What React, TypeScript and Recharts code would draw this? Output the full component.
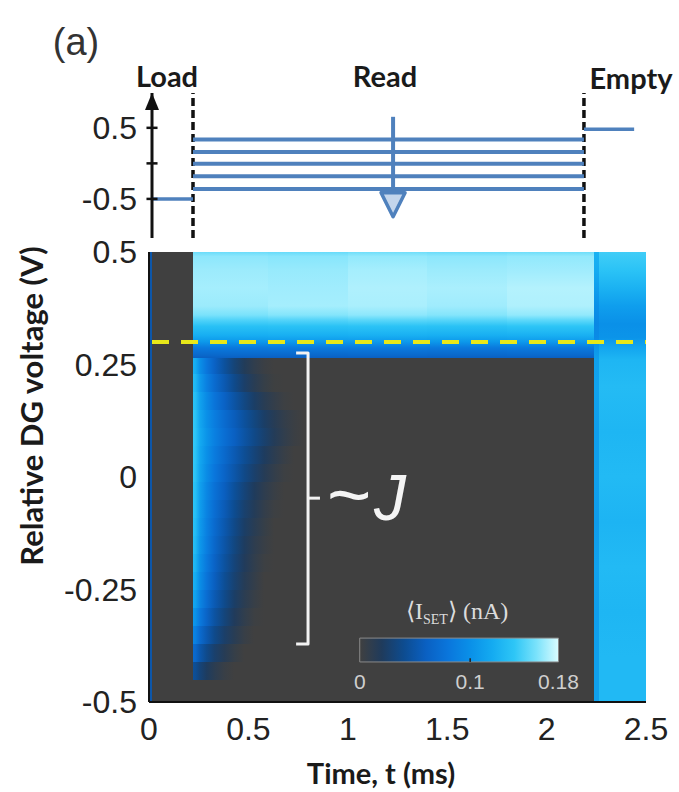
import React from "react";
import {
  ComposedChart,
  Line,
  XAxis,
  YAxis,
  ReferenceArea,
  ReferenceLine,
  ReferenceDot,
} from "recharts";

// ---------- top panel: gate pulse scheme (schematic, ms) ----------
const phaseEdges = [0.2075, 2.186]; // Load | Read | Empty
const loadLevel = -0.5;
const readLevels = [0.335, 0.16, -0.005, -0.18, -0.36];
const emptyLevel = 0.48;
const emptyEnd = 2.44;
const readArrow = { t: 1.22, top: 0.655, tip: -0.75 };
const pulseTicks = [-0.5, 0, 0.5];

// ---------- main panel ----------
const timeTicks = [0, 0.5, 1, 1.5, 2, 2.5];
const voltTicks = [-0.5, -0.25, 0, 0.25, 0.5];
const thresholdV = 0.3; // yellow dashed line

// thin strip at t=0
const loadStrip = { t0: 0, t1: 0.014, value: 0.05 };

// read phase, above threshold: vertical profiles (nA) per time column
const readTopCols = [0.22, 0.6, 1.0, 1.4, 1.8, 2.24];
const readTopV = [0.5, 0.49, 0.46, 0.42, 0.38, 0.36, 0.35, 0.335, 0.315, 0.3, 0.287, 0.27, 0.265];
const readTopValues = [
  [0.156, 0.164, 0.167, 0.169, 0.167, 0.16, 0.15, 0.136, 0.122, 0.105, 0.082, 0.066, 0.06],
  [0.155, 0.163, 0.166, 0.168, 0.169, 0.162, 0.151, 0.137, 0.123, 0.106, 0.083, 0.066, 0.06],
  [0.157, 0.165, 0.169, 0.171, 0.17, 0.164, 0.153, 0.138, 0.124, 0.106, 0.083, 0.067, 0.06],
  [0.156, 0.164, 0.167, 0.17, 0.168, 0.162, 0.152, 0.137, 0.123, 0.105, 0.082, 0.066, 0.06],
  [0.157, 0.165, 0.168, 0.172, 0.171, 0.165, 0.154, 0.139, 0.124, 0.106, 0.083, 0.067, 0.06],
];

// read phase, below threshold: decay profiles along time, one per voltage row
const decayT = [0.22, 0.235, 0.255, 0.29, 0.33, 0.38, 0.43, 0.48, 0.53, 0.58, 0.63, 0.68, 0.73, 0.78];
const decayEdges = [
  0.265, 0.23, 0.19, 0.15, 0.11, 0.07, 0.03, -0.01, -0.05, -0.09, -0.13, -0.17, -0.21, -0.25,
  -0.29, -0.33, -0.37, -0.41, -0.45,
];
const decayValues = [
  [0.125, 0.12, 0.1, 0.08, 0.062, 0.045, 0.03, 0.018, 0.009, 0.003, 0],
  [0.133, 0.128, 0.108, 0.088, 0.07, 0.053, 0.038, 0.025, 0.014, 0.006, 0.001, 0],
  [0.138, 0.133, 0.114, 0.095, 0.078, 0.062, 0.048, 0.035, 0.024, 0.014, 0.007, 0.002, 0],
  [0.142, 0.137, 0.118, 0.1, 0.085, 0.07, 0.057, 0.045, 0.034, 0.024, 0.015, 0.008, 0.003, 0],
  [0.142, 0.138, 0.12, 0.103, 0.088, 0.073, 0.06, 0.048, 0.037, 0.027, 0.017, 0.009, 0.003, 0],
  [0.142, 0.137, 0.118, 0.1, 0.084, 0.068, 0.054, 0.042, 0.031, 0.021, 0.012, 0.005, 0],
  [0.142, 0.136, 0.116, 0.097, 0.08, 0.064, 0.05, 0.037, 0.026, 0.016, 0.008, 0.002, 0],
  [0.14, 0.134, 0.113, 0.093, 0.075, 0.059, 0.044, 0.031, 0.02, 0.011, 0.004, 0],
  [0.139, 0.133, 0.111, 0.09, 0.072, 0.055, 0.04, 0.027, 0.017, 0.008, 0.002, 0],
  [0.138, 0.131, 0.109, 0.088, 0.069, 0.052, 0.037, 0.024, 0.014, 0.006, 0],
  [0.136, 0.129, 0.107, 0.086, 0.066, 0.049, 0.034, 0.021, 0.011, 0.004, 0],
  [0.132, 0.125, 0.103, 0.082, 0.063, 0.046, 0.031, 0.019, 0.009, 0.002, 0],
  [0.126, 0.12, 0.099, 0.078, 0.059, 0.042, 0.028, 0.016, 0.007, 0],
  [0.118, 0.112, 0.092, 0.072, 0.054, 0.038, 0.024, 0.013, 0.005, 0],
  [0.107, 0.101, 0.083, 0.064, 0.047, 0.032, 0.019, 0.009, 0.002, 0],
  [0.092, 0.087, 0.07, 0.053, 0.038, 0.025, 0.014, 0.005, 0],
  [0.07, 0.066, 0.052, 0.038, 0.026, 0.015, 0.006, 0],
  [0.044, 0.041, 0.031, 0.021, 0.012, 0.004, 0],
];

// empty phase: vertical profiles for the edge column and the main column
const emptyCols = [2.24, 2.262, 2.5];
const emptyV = [0.5, 0.46, 0.42, 0.38, 0.34, 0.31, 0.29, 0.26, 0.2, 0.1, 0, -0.1, -0.2, -0.3, -0.4, -0.5];
const emptyValues = [
  [0.125, 0.12, 0.11, 0.1, 0.094, 0.096, 0.104, 0.112, 0.114, 0.11, 0.112, 0.109, 0.113, 0.11, 0.112, 0.112],
  [0.145, 0.138, 0.125, 0.11, 0.1, 0.103, 0.115, 0.128, 0.132, 0.128, 0.131, 0.127, 0.131, 0.128, 0.13, 0.13],
];

// ~J bracket
const bracket = { tIn: 0.74, tOut: 0.8, tTick: 0.86, vTop: 0.2756, vBot: -0.371, vMid: -0.047 };

// colour bar placement (data units) and labels
const cbar = { t0: 1.06, t1: 2.06, v0: -0.411, v1: -0.358, max: 0.18 };
const cbarTicks = [0, 0.1, 0.18];

// colormap
const cmapStops = [0, 0.02, 0.04, 0.06, 0.08, 0.1, 0.12, 0.14, 0.16, 0.18];
const cmapColors = ["#404040", "#1f3b5c", "#0d4c90", "#0a60c2", "#0a76dc", "#0a90e8", "#14abf1", "#2ec6f6", "#7ae2fb", "#dafcff"];

function hex(c: string) {
  return [1, 3, 5].map((i) => parseInt(c.slice(i, i + 2), 16));
}
function cmap(v: number) {
  if (v <= cmapStops[0]) return cmapColors[0];
  for (let i = 1; i < cmapStops.length; i++) {
    if (v <= cmapStops[i]) {
      const f = (v - cmapStops[i - 1]) / (cmapStops[i] - cmapStops[i - 1]);
      const a = hex(cmapColors[i - 1]);
      const b = hex(cmapColors[i]);
      const m = a.map((x, k) => Math.round(x + (b[k] - x) * f));
      return `rgb(${m[0]},${m[1]},${m[2]})`;
    }
  }
  return cmapColors[cmapColors.length - 1];
}

// heat-map bands: rectangles filled with a gradient sampled from the values
type Band = {
  id: string;
  t0: number;
  t1: number;
  v0: number;
  v1: number;
  dir: "h" | "v";
  stops: { o: number; c: string }[];
};
const bands: Band[] = [];
bands.push({
  id: "ls",
  t0: loadStrip.t0,
  t1: loadStrip.t1,
  v0: -0.5,
  v1: 0.5,
  dir: "v",
  stops: [{ o: 0, c: cmap(loadStrip.value) }, { o: 1, c: cmap(loadStrip.value) }],
});
readTopValues.forEach((col, j) => {
  const top = readTopV[0];
  const bot = readTopV[readTopV.length - 1];
  bands.push({
    id: `rt${j}`,
    t0: readTopCols[j],
    t1: readTopCols[j + 1],
    v0: bot,
    v1: top,
    dir: "v",
    stops: col.map((val, k) => ({ o: (top - readTopV[k]) / (top - bot), c: cmap(val) })),
  });
});
decayValues.forEach((row, i) => {
  const t0 = decayT[0];
  const t1 = decayT[row.length - 1];
  bands.push({
    id: `dc${i}`,
    t0,
    t1,
    v0: decayEdges[i + 1],
    v1: decayEdges[i],
    dir: "h",
    stops: row.map((val, k) => ({ o: (decayT[k] - t0) / (t1 - t0), c: cmap(val) })),
  });
});
emptyValues.forEach((col, j) => {
  const top = emptyV[0];
  const bot = emptyV[emptyV.length - 1];
  bands.push({
    id: `em${j}`,
    t0: emptyCols[j],
    t1: emptyCols[j + 1],
    v0: bot,
    v1: top,
    dir: "v",
    stops: col.map((val, k) => ({ o: (top - emptyV[k]) / (top - bot), c: cmap(val) })),
  });
});

const BLUE = "#4f81bd";
const tickFont = { fontSize: 32, fill: "#222", fontFamily: "Liberation Sans, Arial, sans-serif" };
const titleFont: React.CSSProperties = { fontFamily: "Lato, sans-serif", fontWeight: 700, color: "#1a1a1a" };

function Txt({ x, y, children, style }: any) {
  return (
    <div
      style={{
        position: "absolute",
        left: x,
        top: y,
        transform: "translate(-50%,-50%)",
        whiteSpace: "nowrap",
        lineHeight: 1,
        ...style,
      }}
    >
      {children}
    </div>
  );
}

function PulseChart() {
  return (
    <ComposedChart width={679} height={250} margin={{ top: 93, right: 33, bottom: 12, left: 0 }}>
      <ReferenceLine x={phaseEdges[0]} stroke="#111" strokeWidth={3.5} strokeDasharray="8 4" />
      <ReferenceLine x={phaseEdges[1]} stroke="#111" strokeWidth={3.5} strokeDasharray="8 4" />
      <Line
        data={[{ t: 0, v: loadLevel }, { t: phaseEdges[0], v: loadLevel }]}
        dataKey="v"
        stroke={BLUE}
        strokeWidth={3.5}
        dot={false}
        isAnimationActive={false}
      />
      {readLevels.map((lv, i) => (
        <Line
          key={i}
          data={[{ t: phaseEdges[0], v: lv }, { t: phaseEdges[1], v: lv }]}
          dataKey="v"
          stroke={BLUE}
          strokeWidth={4}
          dot={false}
          isAnimationActive={false}
        />
      ))}
      <Line
        data={[{ t: phaseEdges[1], v: emptyLevel }, { t: emptyEnd, v: emptyLevel }]}
        dataKey="v"
        stroke={BLUE}
        strokeWidth={3.5}
        dot={false}
        isAnimationActive={false}
      />
      <ReferenceDot
        x={readArrow.t}
        y={readArrow.tip}
        r={1}
        ifOverflow="visible"
        shape={(p: any) => (
          <polygon
            points={`${p.cx},${p.cy} ${p.cx - 12},${p.cy - 24} ${p.cx + 12},${p.cy - 24}`}
            fill="#c3d5ec"
            stroke={BLUE}
            strokeWidth={3.5}
            strokeLinejoin="round"
          />
        )}
      />
      <Line
        data={[{ t: readArrow.t, v: readArrow.top }, { t: readArrow.t, v: readArrow.tip + 0.06 }]}
        dataKey="v"
        stroke={BLUE}
        strokeWidth={4}
        dot={false}
        isAnimationActive={false}
      />
      {pulseTicks.map((v) => (
        <ReferenceLine
          key={v}
          segment={[{ x: -0.028, y: v }, { x: 0.028, y: v }]}
          stroke="#111"
          strokeWidth={2.5}
          ifOverflow="visible"
        />
      ))}
      <ReferenceDot
        x={0}
        y={0.99}
        r={1}
        ifOverflow="visible"
        shape={(p: any) => (
          <polygon points={`${p.cx},${p.cy} ${p.cx - 7},${p.cy + 17} ${p.cx + 7},${p.cy + 17}`} fill="#111" />
        )}
      />
      <XAxis dataKey="t" type="number" domain={[0, 2.5]} hide />
      <YAxis
        type="number"
        width={152}
        domain={[-1.05, 0.99]}
        ticks={pulseTicks}
        tickFormatter={(v: number) => (v === 0 ? "" : String(v))}
        tickSize={0}
        tickMargin={15}
        tickLine={false}
        axisLine={{ stroke: "#111", strokeWidth: 3 }}
        tick={tickFont}
      />
    </ComposedChart>
  );
}

function HeatChart() {
  const cbT = (val: number) => cbar.t0 + (val / cbar.max) * (cbar.t1 - cbar.t0);
  return (
    <ComposedChart width={679} height={792} margin={{ top: 252, right: 33, bottom: 0, left: 0 }}>
      <defs>
        <linearGradient id="cbarGrad" x1="0" x2="1" y1="0" y2="0">
          {cmapStops.map((s, i) => (
            <stop key={i} offset={s / cbar.max} stopColor={cmapColors[i]} />
          ))}
        </linearGradient>
        {bands.map((b) => (
          <linearGradient
            key={b.id}
            id={b.id}
            x1="0"
            y1="0"
            x2={b.dir === "h" ? "1" : "0"}
            y2={b.dir === "h" ? "0" : "1"}
          >
            {b.stops.map((s, k) => (
              <stop key={k} offset={s.o} stopColor={s.c} />
            ))}
          </linearGradient>
        ))}
      </defs>
      <ReferenceArea x1={0} x2={2.5} y1={-0.5} y2={0.5} fill="#404040" fillOpacity={1} />
      {bands.map((b) => (
        <ReferenceArea
          key={b.id}
          x1={b.t0}
          x2={b.t1}
          y1={b.v0}
          y2={b.v1}
          fill={`url(#${b.id})`}
          fillOpacity={1}
          shapeRendering="crispEdges"
        />
      ))}
      <ReferenceArea
        x1={cbar.t0}
        x2={cbar.t1}
        y1={cbar.v0}
        y2={cbar.v1}
        fill="url(#cbarGrad)"
        fillOpacity={1}
        stroke="#8a8a8a"
        strokeWidth={1}
      />
      <ReferenceLine
        segment={[{ x: cbT(0.1), y: cbar.v0 }, { x: cbT(0.1), y: cbar.v0 + 0.008 }]}
        stroke="#222"
        strokeWidth={1.5}
      />
      {cbarTicks.map((v) => (
        <ReferenceDot
          key={v}
          x={cbT(v)}
          y={cbar.v0}
          r={1}
          shape={(p: any) => (
            <text
              x={p.cx}
              y={p.cy + 27}
              textAnchor="middle"
              fontSize={21}
              fill="#cfcfcf"
              fontFamily="Liberation Sans, Arial, sans-serif"
            >
              {String(v)}
            </text>
          )}
        />
      ))}
      <ReferenceDot
        x={(cbar.t0 + cbar.t1) / 2}
        y={cbar.v1}
        r={1}
        shape={(p: any) => (
          <text
            x={p.cx - 2}
            y={p.cy - 19}
            textAnchor="middle"
            fontSize={24}
            fill="#dcdcdc"
            fontFamily="Liberation Serif, serif"
          >
            ⟨I
            <tspan fontSize={14} dy={5}>
              SET
            </tspan>
            <tspan dy={-5}>⟩ (nA)</tspan>
          </text>
        )}
      />
      <Line
        data={[{ t: 0, v: thresholdV }, { t: 2.5, v: thresholdV }]}
        dataKey="v"
        stroke="#e8e81a"
        strokeWidth={4}
        strokeDasharray="17 12"
        strokeDashoffset={-3}
        dot={false}
        isAnimationActive={false}
      />
      <Line
        data={[
          { t: bracket.tIn, v: bracket.vTop },
          { t: bracket.tOut, v: bracket.vTop },
          { t: bracket.tOut, v: bracket.vBot },
          { t: bracket.tIn, v: bracket.vBot },
        ]}
        dataKey="v"
        stroke="#f2f2f2"
        strokeWidth={3}
        strokeLinejoin="round"
        dot={false}
        isAnimationActive={false}
      />
      <Line
        data={[{ t: bracket.tOut, v: bracket.vMid }, { t: bracket.tTick, v: bracket.vMid }]}
        dataKey="v"
        stroke="#f2f2f2"
        strokeWidth={3}
        dot={false}
        isAnimationActive={false}
      />
      <ReferenceDot
        x={bracket.tTick}
        y={bracket.vMid}
        r={1}
        shape={(p: any) => (
          <g fill="#f4f4f4" fontFamily="Liberation Sans, Arial, sans-serif">
            <text x={p.cx + 7} y={p.cy + 23} fontSize={76}>
              ~
            </text>
            <text x={p.cx + 54} y={p.cy + 22} fontSize={64} fontStyle="italic">
              J
            </text>
          </g>
        )}
      />
      <XAxis
        dataKey="t"
        type="number"
        domain={[0, 2.5]}
        ticks={timeTicks}
        height={90}
        tickSize={0}
        tickMargin={15}
        tickLine={false}
        axisLine={{ stroke: "#111", strokeWidth: 2 }}
        tick={tickFont}
      />
      <XAxis
        xAxisId="top"
        orientation="top"
        type="number"
        domain={[0, 2.5]}
        ticks={timeTicks}
        height={0}
        mirror
        tick={false}
        tickSize={5}
        tickLine={{ stroke: "#111", strokeWidth: 2 }}
        axisLine={{ stroke: "#111", strokeWidth: 2 }}
      />
      <YAxis
        type="number"
        domain={[-0.5, 0.5]}
        ticks={voltTicks}
        width={149}
        tickSize={0}
        tickMargin={12}
        tickLine={false}
        axisLine={{ stroke: "#111", strokeWidth: 2 }}
        tick={tickFont}
      />
      <YAxis
        yAxisId="right"
        orientation="right"
        type="number"
        domain={[-0.5, 0.5]}
        ticks={voltTicks}
        width={0}
        mirror
        tick={false}
        tickSize={5}
        tickLine={{ stroke: "#111", strokeWidth: 2 }}
        axisLine={{ stroke: "#111", strokeWidth: 2 }}
      />
    </ComposedChart>
  );
}

export default function App() {
  return (
    <div
      style={{
        position: "absolute",
        left: 0,
        top: 0,
        width: 679,
        height: 792,
        background: "#fff",
        overflow: "hidden",
      }}
    >
      <div style={{ position: "absolute", left: 0, top: 0 }}>
        <PulseChart />
      </div>
      <div style={{ position: "absolute", left: 0, top: 0 }}>
        <HeatChart />
      </div>
      <Txt x={76} y={42} style={{ fontFamily: "Liberation Sans, Arial, sans-serif", fontSize: 38, color: "#333" }}>
        (a)
      </Txt>
      <Txt x={167} y={75} style={{ ...titleFont, fontSize: 29 }}>
        Load
      </Txt>
      <Txt x={385} y={75} style={{ ...titleFont, fontSize: 29 }}>
        Read
      </Txt>
      <Txt x={631} y={77} style={{ ...titleFont, fontSize: 29 }}>
        Empty
      </Txt>
      <Txt x={381} y={772} style={{ ...titleFont, fontSize: 29 }}>
        Time, t (ms)
      </Txt>
      <Txt
        x={31}
        y={406}
        style={{ ...titleFont, fontSize: 31, transform: "translate(-50%,-50%) rotate(-90deg)" }}
      >
        Relative DG voltage (V)
      </Txt>
    </div>
  );
}
